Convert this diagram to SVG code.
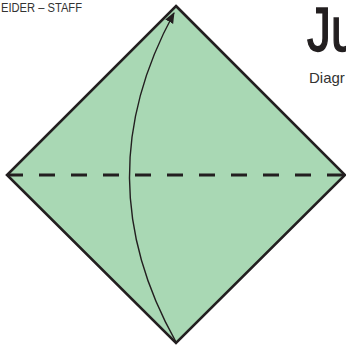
<svg xmlns="http://www.w3.org/2000/svg" width="346" height="349" viewBox="0 0 346 349">
<style>
.paper{fill:#a9d8b4;stroke:#231f20;stroke-width:2.6;stroke-linejoin:miter}
.fold{fill:none;stroke:#231f20;stroke-width:3;stroke-dasharray:16 16}
.move{fill:none;stroke:#231f20;stroke-width:1.4}
.title{font-family:"Liberation Sans",Arial,sans-serif;fill:#231f20;stroke:#231f20;stroke-width:1.6}
.sub{font-family:"Liberation Sans",Arial,sans-serif;fill:#333333}
</style>
<defs>
<marker id="ah" markerWidth="12" markerHeight="10" refX="10" refY="4.5" orient="auto" markerUnits="userSpaceOnUse">
<path d="M0,0 L11,4.5 L0,9 Z" fill="#231f20"/>
</marker>
</defs>
<g id="header">
<text class="sub" x="1" y="12" font-size="12" textLength="81" lengthAdjust="spacingAndGlyphs" fill="#444">EIDER – STAFF</text>
<text class="title" transform="translate(307,51) scale(0.76,1)" x="0" y="0" font-size="63">Ju</text>
<text class="sub" x="309" y="83" font-size="15">Diagr</text>
</g>
<g id="paper">
<polygon class="paper" points="176,6 345,175 176,343 7,175"/>
</g>
<g id="connectors">
<line class="fold" x1="7" y1="175" x2="345" y2="175"/>
<path class="move" d="M176,342 Q84,178 174,13" marker-end="url(#ah)"/>
</g>
</svg>
